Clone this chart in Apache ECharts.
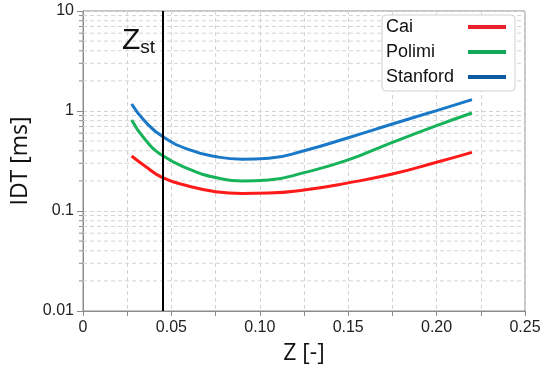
<!DOCTYPE html>
<html>
<head>
<meta charset="utf-8">
<script src="https://cdn.jsdelivr.net/npm/echarts@6/dist/echarts.min.js"></script>
<style>
html, body { margin: 0; padding: 0; background: #fff; }
#chart { width: 552px; height: 376px; }
</style>
</head>
<body>
<div id="chart"></div>
<script>
// 混合分数 Z
var zVals = [0.0275, 0.035, 0.045, 0.06, 0.075, 0.09, 0.105, 0.125, 0.15, 0.175, 0.2, 0.22];
// 着火延迟 IDT [ms]
var caiIdt      = [0.355, 0.282, 0.216, 0.177, 0.156, 0.150, 0.151, 0.162, 0.191, 0.234, 0.307, 0.386];
var polimiIdt   = [0.813, 0.521, 0.358, 0.262, 0.216, 0.199, 0.204, 0.242, 0.324, 0.486, 0.715, 0.955];
var stanfordIdt = [1.175, 0.789, 0.555, 0.410, 0.350, 0.330, 0.337, 0.400, 0.540, 0.741, 1.01, 1.30];
var zSt = 0.0453;
var seriesNames = ['Cai', 'Polimi', 'Stanford'];
var lineColors = ['#ff1a1a', '#17b35a', '#1a78c8'];
var legendColors = ['#e8202a', '#12a85a', '#0b5aa2'];
// 对数轴次刻度 2..9
var minorVals = [0.02, 0.03, 0.04, 0.05, 0.06, 0.07, 0.08, 0.09,
                 0.2, 0.3, 0.4, 0.5, 0.6, 0.7, 0.8, 0.9,
                 2, 3, 4, 5, 6, 7, 8, 9];

function pairs(ys) {
	return zVals.map(function(z, i) { return [z, ys[i]]; });
}

var chart = echarts.init(document.getElementById('chart'));
var gridColor = '#d4d4d4';
var axisColor = '#8c8c8c';

function lineSeries(i, ys) {
	return {
		name : seriesNames[i],
		type : 'line',
		smooth : 0.5,
		showSymbol : false,
		z : 3,
		lineStyle : { width : 3, color : lineColors[i] },
		itemStyle : { color : lineColors[i] },
		data : pairs(ys)
	};
}

var cai = lineSeries(0, caiIdt);
// 化学计量线 Z_st
cai.markLine = {
	silent : true,
	symbol : 'none',
	precision : 5,
	label : { show : false },
	lineStyle : { color : '#000', width : 2, type : 'solid' },
	data : [ [ { coord : [zSt, 0.01] }, { coord : [zSt, 10] } ] ]
};
cai.markPoint = {
	silent : true,
	symbol : 'circle', symbolSize : 0,
	data : [ {
		coord : [zSt, 5.0],
		label : {
			show : true,
			position : 'left',
			distance : 8,
			formatter : '{z|Z}{s|st}',
			rich : {
				z : { fontFamily : 'Liberation Sans', fontSize : 30, color : '#111' },
				s : { fontFamily : 'Liberation Sans', fontSize : 19, color : '#111', padding : [14, 0, 0, 0] }
			}
		}
	} ]
};

option = {
	animation : false,
	grid : {
		left : 83, right : 27, top : 11, bottom : 65,
		show : true, borderColor : axisColor, borderWidth : 1
	},
	legend : {
		orient : 'vertical',
		left : 382, top : 15,
		align : 'right',
		icon : 'rect',
		itemWidth : 38, itemHeight : 4,
		itemGap : 7,
		padding : [3, 9, 5, 4],
		backgroundColor : '#fff',
		borderColor : '#cfcfcf', borderWidth : 1, borderRadius : 4,
		formatter : '{a|{name}}',
		textStyle : {
			fontFamily : 'Liberation Sans', fontSize : 18, color : '#111',
			rich : {
				a : { fontFamily : 'Liberation Sans', fontSize : 18, color : '#111',
					width : 77, lineHeight : 20, align : 'left' }
			}
		},
		data : seriesNames.map(function(n, i) {
			return { name : n, itemStyle : { color : legendColors[i] } };
		})
	},
	xAxis : {
		type : 'value',
		min : 0, max : 0.25, interval : 0.025,
		name : 'Z [-]',
		nameLocation : 'middle',
		nameGap : 31,
		nameTextStyle : { fontFamily : 'Open Sans', fontSize : 23, color : '#111' },
		axisLine : { lineStyle : { color : axisColor } },
		axisTick : { show : true, length : 5, lineStyle : { color : axisColor } },
		axisLabel : {
			fontFamily : 'Liberation Sans', fontSize : 16, color : '#222', margin : 9,
			formatter : function(v) {
				var k = Math.round(v * 1000);
				if (k % 50 !== 0) return '';
				return k === 0 ? '0' : v.toFixed(2);
			}
		},
		splitLine : { show : true, lineStyle : { color : gridColor, type : [4, 3] } }
	},
	yAxis : {
		type : 'log', logBase : 10,
		min : 0.01, max : 10,
		name : 'IDT [ms]',
		nameLocation : 'middle',
		nameGap : 42,
		nameTextStyle : { fontFamily : 'Open Sans', fontSize : 23, color : '#111' },
		axisLine : { show : true, lineStyle : { color : axisColor } },
		axisTick : { show : true, length : 6, lineStyle : { color : axisColor } },
		axisLabel : {
			fontFamily : 'Liberation Sans', fontSize : 16, color : '#222', margin : 9,
			formatter : function(v) { return String(+v.toPrecision(3)); }
		},
		splitLine : { show : true, lineStyle : { color : gridColor, type : [4, 3] } }
	},
	series : [ {
		name : 'minor',
		type : 'custom',
		silent : true,
		clip : false,
		z : 1,
		data : minorVals.map(function(v) { return [0, v]; }),
		renderItem : function(params, api) {
			var cs = params.coordSys;
			var y = api.coord([0, api.value(1)])[1];
			return {
				type : 'group',
				children : [ {
					type : 'line',
					shape : { x1 : cs.x, y1 : y, x2 : cs.x + cs.width, y2 : y },
					style : { stroke : gridColor, lineWidth : 1, lineDash : [4, 3] }
				}, {
					type : 'line',
					shape : { x1 : cs.x - 4, y1 : y, x2 : cs.x, y2 : y },
					style : { stroke : axisColor, lineWidth : 1 }
				} ]
			};
		}
	},
	cai,
	lineSeries(1, polimiIdt),
	lineSeries(2, stanfordIdt) ]
};
chart.setOption(option);
</script>
</body>
</html>
